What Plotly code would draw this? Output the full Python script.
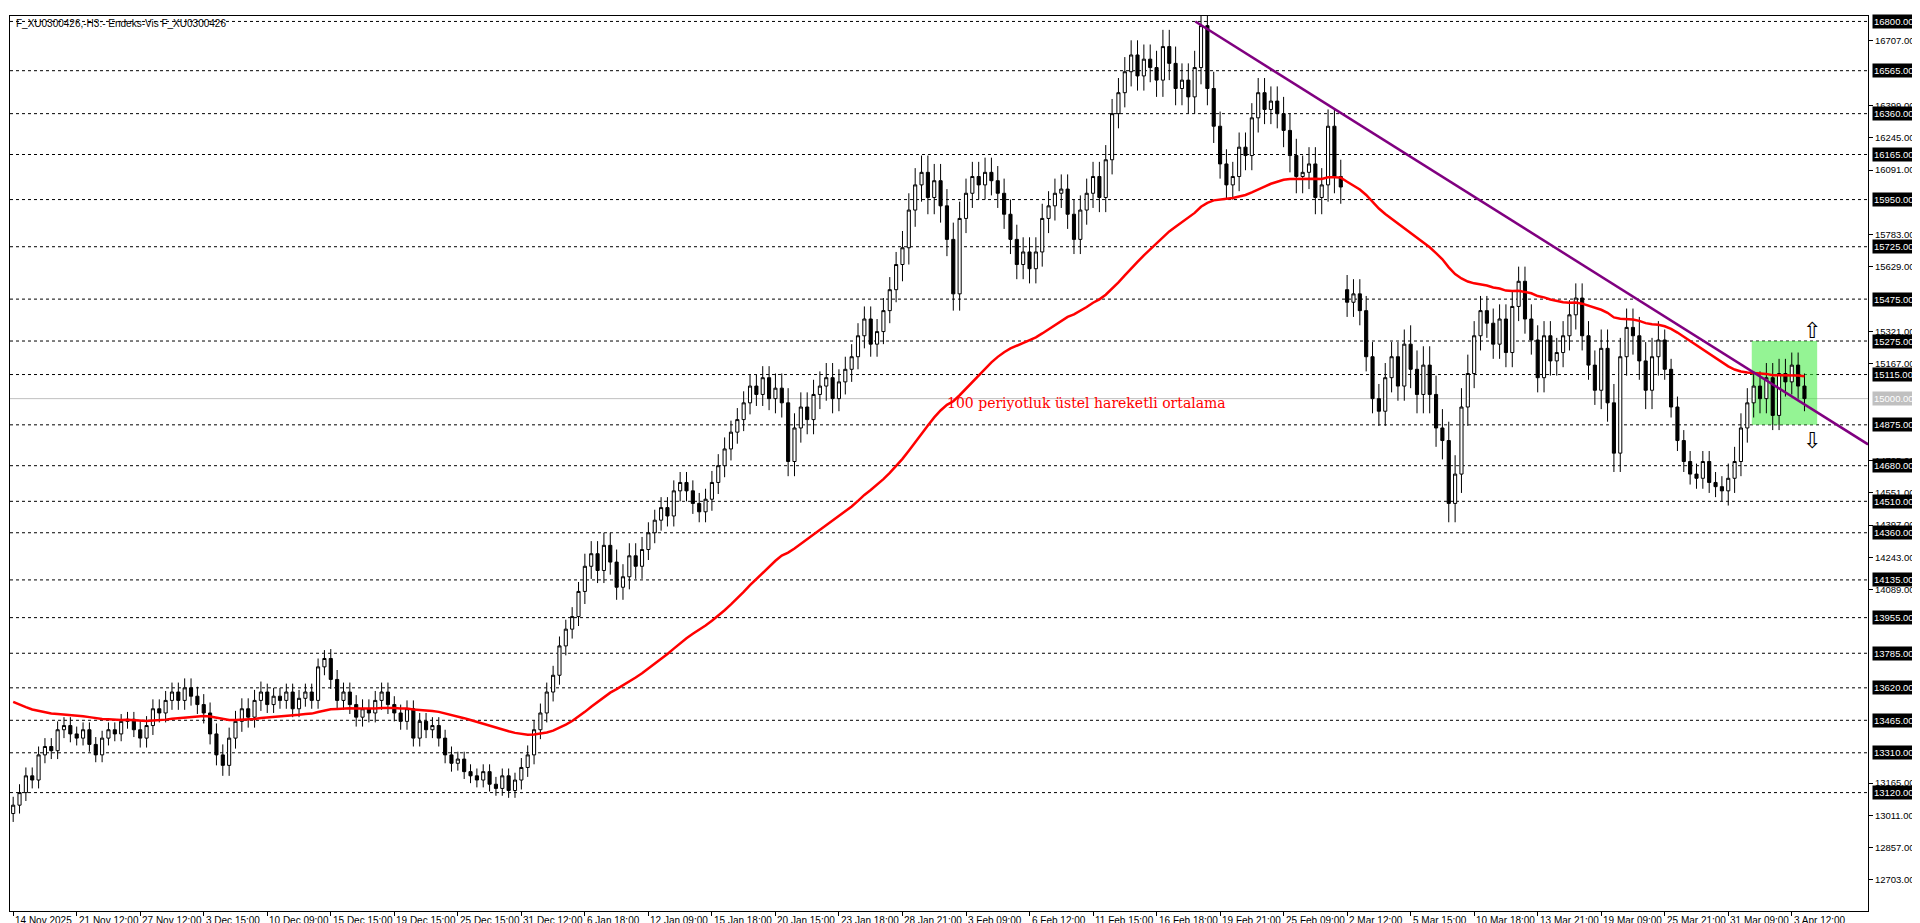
import plotly.graph_objects as go

# H3 closes, 10 bars per x label
closes = [
    13060, 13120, 13200, 13180, 13300, 13340, 13320, 13420, 13440, 13400,
    13380, 13420, 13350, 13300, 13380, 13420, 13400, 13460, 13470, 13420,
    13380, 13440, 13520, 13500, 13560, 13600, 13560, 13620, 13580, 13540,
    13500, 13400, 13300, 13250, 13380, 13460, 13520, 13480, 13560, 13600,
    13540, 13580, 13560, 13600, 13520, 13570, 13600, 13560, 13720, 13760,
    13660, 13560, 13600, 13540, 13480, 13520, 13500, 13560, 13600, 13540,
    13500, 13460, 13520, 13380, 13460, 13420, 13440, 13380, 13300, 13260,
    13280, 13220, 13200, 13180, 13220, 13160, 13140, 13200, 13130, 13180,
    13240, 13300, 13420, 13500, 13600, 13680, 13820, 13900, 13960, 14080,
    14200, 14260, 14180, 14300, 14220, 14100, 14150, 14250, 14200, 14280,
    14360, 14420, 14480, 14440, 14560, 14600, 14560, 14500, 14460, 14520,
    14600, 14680, 14760, 14840, 14900, 14980, 15060, 15020, 15100, 15000,
    15050, 14980, 14700, 14860, 14960, 14900, 15020, 15060, 15100, 15000,
    15080, 15140, 15200, 15300, 15380, 15260, 15320, 15420, 15520, 15640,
    15720, 15900, 16020, 16080, 15960, 16040, 15920, 15760, 15500, 15860,
    15980, 16060, 16020, 16080, 16040, 15980, 15880, 15760, 15640, 15700,
    15620, 15700, 15860, 15920, 15980, 16000, 15880, 15760, 15900, 15980,
    16060, 15960, 16140, 16360, 16460, 16560, 16640, 16540, 16620, 16580,
    16520, 16680, 16600, 16480, 16520, 16440, 16580, 16780, 16480, 16300,
    16120, 16020, 16060, 16200, 16160, 16340, 16460, 16380, 16420, 16360,
    16280, 16160, 16060, 16080, 16120, 15960, 16020, 16300, 16060, 16010,
    15460, 15500, 15420, 15200, 15000, 14940, 15100, 15200, 15060, 15260,
    15140, 15020, 15160, 15020, 14860, 14800, 14500, 14640, 14960, 15120,
    15300, 15420, 15360, 15260, 15380, 15220, 15440, 15560, 15380, 15280,
    15100, 15300, 15180, 15220, 15300, 15400, 15480, 15300, 15160, 15040,
    15240, 14980, 14740, 15200, 15340, 15300, 15180, 15040, 15200, 15280,
    15140, 14960, 14800, 14700, 14640, 14620, 14700, 14600, 14580, 14560,
    14620, 14700, 14860, 14980, 15060, 15000, 15100, 14920, 15120, 15080,
    15160, 15060, 15000,
]
first_open = 13020
gap_opens = {210: 15520}
# typical wick size per block of 10 bars
wicks = [40, 35, 45, 50, 40, 45, 40, 35, 45, 60, 50, 55, 70, 60, 80, 70, 70,
         70, 80, 70, 80, 70, 90, 70, 70, 90, 50, 70, 60]

x_labels = ["14 Nov 2025", "21 Nov 12:00", "27 Nov 12:00", "3 Dec 15:00", "10 Dec 09:00",
            "15 Dec 15:00", "19 Dec 15:00", "25 Dec 15:00", "31 Dec 12:00", "6 Jan 18:00",
            "12 Jan 09:00", "15 Jan 18:00", "20 Jan 15:00", "23 Jan 18:00", "28 Jan 21:00",
            "3 Feb 09:00", "6 Feb 12:00", "11 Feb 15:00", "16 Feb 18:00", "19 Feb 21:00",
            "25 Feb 09:00", "2 Mar 12:00", "5 Mar 15:00", "10 Mar 18:00", "13 Mar 21:00",
            "19 Mar 09:00", "25 Mar 21:00", "31 Mar 09:00", "3 Apr 12:00"]

level_lines = [16800, 16565, 16360, 16165, 15950, 15725, 15475, 15275, 15115, 14875,
               14680, 14510, 14360, 14135, 13955, 13785, 13620, 13465, 13310, 13120]
axis_ticks = [16707, 16399, 16245, 16091, 15783, 15629, 15321, 15167, 14705, 14551,
              14397, 14243, 14089, 13165, 13011, 12857, 12703]
last_price = 15000
# the chart's EMA is 100 periods of its own (denser) bars; fewer of ours
ema_period = 60
ema_seed = 13570

trend_x = [186.1, 292]
trend_y = [16800, 14782]
box_x = [273.7, 284]
box_y = [14875, 15275]

FONT = "Liberation Sans"

n = len(closes)
xs = list(range(n))
opens, highs, lows = [], [], []
for i, c in enumerate(closes):
    o = first_open if i == 0 else gap_opens.get(i, closes[i - 1])
    w = wicks[i // 10]
    opens.append(o)
    highs.append(max(o, c) + w)
    lows.append(min(o, c) - w)

ema = []
k = 2 / (ema_period + 1)
prev = ema_seed
for c in closes:
    prev = prev + k * (c - prev)
    ema.append(prev)

fig = go.Figure()
fig.add_trace(go.Candlestick(
    x=xs, open=opens, high=highs, low=lows, close=closes,
    increasing=dict(fillcolor="white", line=dict(color="black", width=1)),
    decreasing=dict(fillcolor="black", line=dict(color="black", width=1)),
    whiskerwidth=0, showlegend=False,
))
fig.add_trace(go.Scatter(x=xs, y=ema, mode="lines",
                         line=dict(color="#ff0000", width=2.5), showlegend=False))
fig.add_trace(go.Scatter(x=trend_x, y=trend_y, mode="lines",
                         line=dict(color="#800080", width=2.5), showlegend=False))

fig.add_shape(type="rect", x0=box_x[0], x1=box_x[1], y0=box_y[0], y1=box_y[1],
              fillcolor="rgba(60,235,60,0.55)", line=dict(width=0), layer="below")

lbl_font = dict(color="white", size=9.5, family=FONT)
for lv in level_lines:
    fig.add_shape(type="line", xref="paper", x0=0, x1=1, y0=lv, y1=lv,
                  line=dict(color="black", width=1, dash="3px,3px"), layer="below")
    fig.add_annotation(xref="paper", x=1.002, y=lv, xanchor="left", text=f"{lv:.2f}",
                       showarrow=False, bgcolor="black", borderpad=1, font=lbl_font)
fig.add_shape(type="line", xref="paper", x0=0, x1=1, y0=last_price, y1=last_price,
              line=dict(color="#c0c0c0", width=1), layer="below")
fig.add_annotation(xref="paper", x=1.002, y=last_price, xanchor="left",
                   text=f"{last_price:.2f}", showarrow=False, bgcolor="#c0c0c0", borderpad=1,
                   font=lbl_font)

# x labels, left-aligned at their tick like the terminal draws them
for i, t in enumerate(x_labels):
    fig.add_annotation(x=i * 10, xanchor="left", yref="paper", y=0, yanchor="top",
                       yshift=-2, text=t, showarrow=False,
                       font=dict(size=10, color="black", family=FONT))

fig.add_annotation(x=169, y=14978, text="100 periyotluk üstel hareketli ortalama",
                   showarrow=False, font=dict(color="#ff0000", size=14, family="DejaVu Serif"))
fig.add_annotation(x=283.2, y=15327, text="⇧", showarrow=False,
                   font=dict(size=22, color="black"))
fig.add_annotation(x=283.2, y=14800, text="⇩", showarrow=False,
                   font=dict(size=22, color="black"))
fig.add_annotation(xref="paper", yref="paper", x=0.002, y=1.0, xanchor="left", yanchor="top",
                   text="F_XU0300426,-H3:- Endeks-Vis F_XU0300426", showarrow=False,
                   font=dict(size=10, color="black", family=FONT))

fig.update_layout(
    width=1920, height=923, paper_bgcolor="white", plot_bgcolor="white",
    margin=dict(l=2, r=60, t=8, b=20),
    font=dict(family=FONT, size=10, color="black"),
    xaxis=dict(range=[-0.5, 292], rangeslider=dict(visible=False), showgrid=False,
               zeroline=False, tickvals=[i * 10 for i in range(len(x_labels))],
               showticklabels=False, ticks="outside", ticklen=4,
               tickcolor="black", showline=True, linecolor="black", mirror=True),
    yaxis=dict(range=[12555, 16826], side="right", showgrid=False, zeroline=False,
               tickvals=axis_ticks, ticktext=[f"{t:.2f}" for t in axis_ticks],
               ticks="outside", ticklen=4, tickcolor="black", showline=True,
               linecolor="black", mirror=True, tickfont=dict(size=9.5)),
)

fig.write_html("out.html")
